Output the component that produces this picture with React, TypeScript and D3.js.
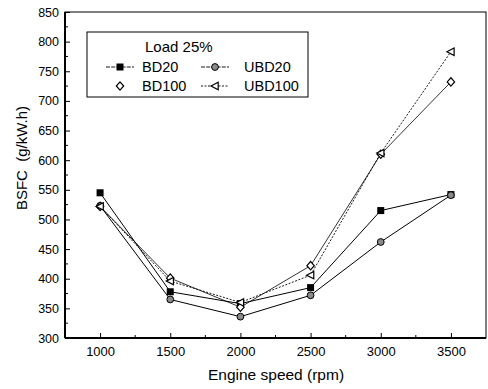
import { useEffect, useRef } from 'react'
import * as d3 from 'd3'

const SPEEDS = [1000, 1500, 2000, 2500, 3000, 3500]
const BD20 = [545, 378, 358, 385, 515, 542]
const UBD20 = [523, 365, 336, 372, 462, 541]
const BD100 = [522, 401, 352, 422, 610, 732]
const UBD100 = [522, 396, 360, 406, 612, 783]
const X_TICKS = [1000, 1500, 2000, 2500, 3000, 3500]
const Y_TICKS = d3.range(300, 851, 50)

type Series = { name: string; values: number[]; marker: string; dash: string | null; width: number }

const SERIES: Series[] = [
  { name: 'BD20', values: BD20, marker: 'square', dash: null, width: 1 },
  { name: 'UBD20', values: UBD20, marker: 'circle', dash: null, width: 1 },
  { name: 'BD100', values: BD100, marker: 'diamond', dash: null, width: 0.8 },
  { name: 'UBD100', values: UBD100, marker: 'triangle', dash: '2,1.5', width: 0.9 },
]

const W = 488
const H = 389
const FONT = 'Liberation Sans, Arial, sans-serif'

function drawMarker(g: d3.Selection<SVGGElement, unknown, null, undefined>, kind: string, x: number, y: number) {
  if (kind === 'square') {
    g.append('rect').attr('x', x - 3.5).attr('y', y - 3.5).attr('width', 7).attr('height', 7).attr('fill', '#000')
  } else if (kind === 'circle') {
    g.append('circle').attr('cx', x).attr('cy', y).attr('r', 3.4).attr('fill', '#8a8a8a').attr('stroke', '#000').attr('stroke-width', 1)
  } else if (kind === 'diamond') {
    g.append('path')
      .attr('d', `M${x},${y - 4.2}L${x + 3.7},${y}L${x},${y + 4.2}L${x - 3.7},${y}Z`)
      .attr('fill', '#fff').attr('stroke', '#000').attr('stroke-width', 1.2)
  } else {
    g.append('path')
      .attr('d', `M${x - 4},${y}L${x + 3.2},${y - 3.7}L${x + 3.2},${y + 3.7}Z`)
      .attr('fill', '#fff').attr('stroke', '#000').attr('stroke-width', 1.2)
  }
}

export default function App() {
  const ref = useRef<SVGSVGElement>(null)

  useEffect(() => {
    if (!ref.current) return
    const svg = d3.select(ref.current)
    svg.selectAll('*').remove()

    const left = 65, right = 486, top = 12, bottom = 338
    const x = d3.scaleLinear().domain([750, 3750]).range([left, right])
    const y = d3.scaleLinear().domain([300, 850]).range([bottom, top])

    const g = svg.append('g')

    // ---- frame ----
    g.append('rect')
      .attr('x', left).attr('y', top).attr('width', right - left).attr('height', bottom - top)
      .attr('fill', 'none').attr('stroke', '#000').attr('stroke-width', 1)
    g.append('line').attr('x1', left).attr('x2', right).attr('y1', bottom).attr('y2', bottom)
      .attr('stroke', '#000').attr('stroke-width', 2)
    g.append('line').attr('x1', left).attr('x2', left).attr('y1', top).attr('y2', bottom)
      .attr('stroke', '#000').attr('stroke-width', 2)

    // ---- x axis (ticks inward) ----
    const xAxis = d3.axisBottom(x).tickValues(X_TICKS).tickSize(-5).tickPadding(9).tickFormat((d) => String(d))
    const xg = g.append('g').attr('transform', `translate(0,${bottom})`).call(xAxis)
    xg.select('.domain').remove()
    xg.selectAll('text').attr('font-family', FONT).attr('font-size', 13).attr('fill', '#000')
    const xMinor = d3.range(1250, 3750, 500)
    g.selectAll('.xminor').data(xMinor).join('line')
      .attr('x1', (d) => x(d)).attr('x2', (d) => x(d)).attr('y1', bottom).attr('y2', bottom - 3)
      .attr('stroke', '#000')

    // ---- y axis ----
    const yAxis = d3.axisLeft(y).tickValues(Y_TICKS).tickSize(-5).tickPadding(6).tickFormat((d) => String(d))
    const yg = g.append('g').attr('transform', `translate(${left},0)`).call(yAxis)
    yg.select('.domain').remove()
    yg.selectAll('text').attr('font-family', FONT).attr('font-size', 12.5).attr('fill', '#000')
    const yMinor = d3.range(325, 850, 50)
    g.selectAll('.yminor').data(yMinor).join('line')
      .attr('x1', left).attr('x2', left + 3).attr('y1', (d) => y(d)).attr('y2', (d) => y(d))
      .attr('stroke', '#000')

    // ---- axis titles ----
    svg.append('text').attr('x', 276).attr('y', 380).attr('text-anchor', 'middle')
      .attr('font-family', FONT).attr('font-size', 15.5).text('Engine speed (rpm)')
    svg.append('text').attr('transform', `translate(27,158) rotate(-90)`)
      .attr('text-anchor', 'middle').attr('font-family', FONT).attr('font-size', 15)
      .attr('xml:space', 'preserve').text('BSFC  (g/kW.h)')

    // ---- series ----
    const line = d3.line<number>().x((_, i) => x(SPEEDS[i])).y((d) => y(d))
    for (const s of SERIES) {
      g.append('path').attr('d', line(s.values) ?? '')
        .attr('fill', 'none').attr('stroke', '#000').attr('stroke-width', s.width)
        .attr('stroke-dasharray', s.dash ?? null)
    }
    for (const s of SERIES) {
      const mg = g.append('g')
      s.values.forEach((v, i) => drawMarker(mg, s.marker, x(SPEEDS[i]), y(v)))
    }

    // ---- legend ----
    const lg = svg.append('g')
    lg.append('rect').attr('x', 87).attr('y', 32).attr('width', 221).attr('height', 65)
      .attr('fill', '#fff').attr('stroke', '#000').attr('stroke-width', 1)
    lg.append('text').attr('x', 145).attr('y', 52).attr('font-family', FONT).attr('font-size', 15).text('Load 25%')
    const entries = [
      { s: SERIES[0], sx: 120, tx: 142, ty: 72 },
      { s: SERIES[1], sx: 215, tx: 244, ty: 72 },
      { s: SERIES[2], sx: 120, tx: 142, ty: 91 },
      { s: SERIES[3], sx: 215, tx: 244, ty: 91 },
    ]
    for (const e of entries) {
      const cy = e.ty - 5
      if (e.s.name !== 'BD100') {
        lg.append('line').attr('x1', e.sx - 14).attr('x2', e.sx + 14).attr('y1', cy).attr('y2', cy)
          .attr('stroke', '#000').attr('stroke-width', 0.9).attr('stroke-dasharray', e.s.dash ?? '4,1.2')
      }
      drawMarker(lg, e.s.marker, e.sx, cy)
      lg.append('text').attr('x', e.tx).attr('y', e.ty).attr('font-family', FONT).attr('font-size', 14.5).text(e.s.name)
    }
  }, [])

  return (
    <svg ref={ref} width={W} height={H}
      style={{ position: 'absolute', left: 0, top: 0, background: '#fff' }} />
  )
}
